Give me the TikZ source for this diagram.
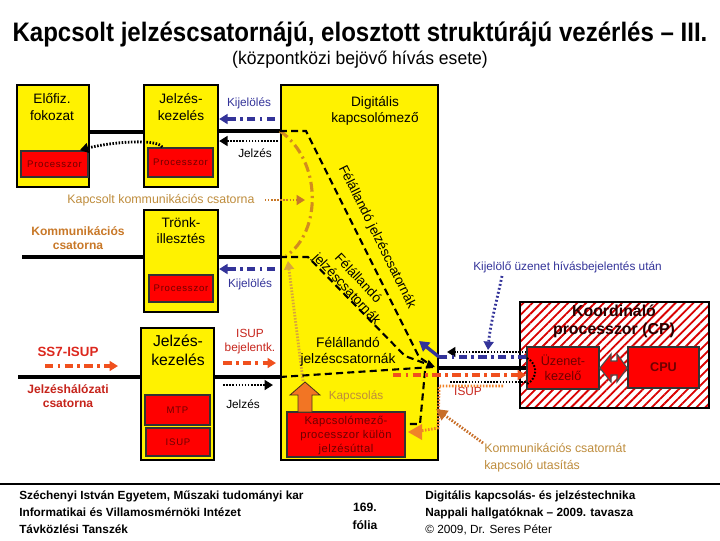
\documentclass[tikz,border=0pt]{standalone}
\usepackage{fontspec}
\usepackage{graphicx}
\setmainfont{Liberation Sans}
\usetikzlibrary{arrows.meta,patterns.meta,calc,fit}
\definecolor{navyC}{RGB}{51,51,153}
\definecolor{ochreT}{RGB}{190,140,60}
\definecolor{ochreB}{RGB}{200,120,40}
\definecolor{arcC}{RGB}{210,140,30}
\definecolor{redT}{RGB}{220,40,30}
\definecolor{redA}{RGB}{240,80,30}
\definecolor{orangeA}{RGB}{240,130,40}
\definecolor{brownA}{RGB}{200,110,40}
\definecolor{dotO}{RGB}{215,165,60}
\definecolor{darkR}{RGB}{110,0,0}
\newcommand{\fsz}[2]{\fontsize{#1}{#2}\selectfont}
\tikzset{
  ybox/.style={draw=black, line width=1.6pt, fill=yellow, inner sep=0pt},
  rbox/.style={draw=black!80, line width=1.2pt, fill=red, inner sep=0pt},
  rtext/.style={text=darkR, font=\fsz{6.8}{8}\addfontfeature{LetterSpace=8}, align=center},
  lbl/.style={font=\fsz{8.4}{10}, align=center, inner sep=0pt},
  btxt/.style={font=\fsz{9.7}{11.5}, align=center, inner sep=0pt},
  trunk/.style={line width=3.5pt},
  dashdot/.style={line width=2.6pt, dash pattern=on 6pt off 3pt on 2pt off 3pt},
  dotline/.style={line width=2pt, dash pattern=on 1.1pt off 1.1pt},
  sigline/.style={line width=1.5pt, dash pattern=on 5pt off 3pt},
  tip/.style={-{Triangle[length=6pt,width=7pt]}},
}
\begin{document}
\begin{tikzpicture}[x=0.025cm,y=-0.025cm]
\useasboundingbox (0,0) rectangle (720,540);
% title
\node (title) at (360,34) {\scalebox{0.9}[1]{\fsz{19}{22}\bfseries Kapcsolt jelzéscsatornájú, elosztott struktúrájú vezérlés – III.}};
\node (subtitle) at (360,60) {\scalebox{0.96}[1]{\fsz{13}{15}(központközi bejövő hívás esete)}};

% boxes
\node[ybox, fit={(17,85)(89,187)}] (pre) {};
\node[btxt] (pretxt) at (52,107) {Előfiz.\\fokozat};
\node[rbox, fit={(21,151)(88,177)}] (preP) {};
\node[rtext] at (preP) {Processzor};

\node[ybox, fit={(144,85)(218,187)}] (sh1) {};
\node[btxt] (sh1txt) at (181,107) {Jelzés-\\kezelés};
\node[rbox, fit={(148,148)(213,177)}] (sh1P) {};
\node[rtext] at (sh1P) {Processzor};

\node[ybox, fit={(281,85)(438,460)}] (dsw) {};
\node[btxt] (dswtxt) at (375,111) {Digitális\\kapcsolómező};

\node[ybox, fit={(144,210)(218,312)}] (tr) {};
\node[btxt] (trtxt) at (181,231) {Trönk-\\illesztés};
\node[rbox, fit={(149,275)(213,302)}] (trP) {};
\node[rtext] at (trP) {Processzor};

\node[ybox, fit={(141,328)(214,460)}] (sh2) {};
\node[btxt, font=\fsz{11.2}{13.5}] (sh2txt) at (178,350) {Jelzés-\\kezelés};
\node[rbox, fit={(145,395)(210,425)}] (mtp) {};
\node[rtext] at (mtp) {MTP};
\node[rbox, fit={(146,428)(210,456)}] (isup) {};
\node[rtext] at (isup) {ISUP};

\node[rbox, fit={(287,412)(405,457)}] (kpp) {};
\node[text=darkR, align=center, font=\fsz{8}{10.3}\addfontfeature{LetterSpace=4}] at ($(kpp)+(0,1)$) {Kapcsolómező-\\processzor külön\\jelzésúttal};

% coordinating processor
\node[draw=black, line width=1.6pt, fill=white, inner sep=0pt, fit={(520,302)(709,408)},
      pattern={Lines[angle=45,distance=4.5pt,line width=1.3pt]}, pattern color=red!85!black] (cp) {};
\node[font=\fsz{11.3}{13}\bfseries, align=center, text=black!85!red] (cptxt) at (614,321) {Koordináló\\processzor (CP)};
\node[rbox, fit={(527,347)(599,389)}] (uz) {};
\node[text=darkR, align=center, font=\fsz{9}{11}] at (uz) {Üzenet-\\kezelő};
\node[rbox, fit={(628,347)(699,388)}] (cpu) {};
\node[font=\fsz{9}{11}\bfseries, text=darkR] at (cpu) {CPU};
\draw[fill=red, draw=black!70, line width=0.8pt] (uz.east |- 0,368) -- (611,354) -- (611,361) -- (617,361) -- (617,354) -- (cpu.west |- 0,368) -- (617,382) -- (617,375) -- (611,375) -- (611,382) -- cycle;

% thick channel lines
\draw[trunk] (pre.east |- 0,132) -- (sh1.west |- 0,132);
\draw[trunk] (sh1.east |- 0,131) -- (dsw.west |- 0,131);
\coordinate (kcL) at (22,257);
\draw[trunk] (kcL) -- (tr.west |- 0,257);
\draw[trunk] (tr.east |- 0,257) -- (dsw.west |- 0,257);
\coordinate (ssL) at (18,377);
\draw[trunk] (ssL) -- (sh2.west |- 0,377);
\draw[trunk] (sh2.east |- 0,377) -- (dsw.west |- 0,377);
\draw[trunk] (dsw.east |- 0,368) -- (uz.west |- 0,368);

% upper gap
\node[lbl, text=navyC] (kij1) at (249,103) {Kijelölés};
\draw[dashdot, navyC, tip] (275,119) -- (sh1.east |- 0,119);
\draw[dotline, tip] (278,141) -- (sh1.east |- 0,141);
\node[lbl] (jel1) at (255,153) {Jelzés};
\draw[dotline, tip] ($(sh1P.north west)+(15,0)$) .. controls +(-5,-9) and +(30,-8) .. ($(preP.north east)+(-9,0)$);

% kapcsolt kommunikacios csatorna
\node[lbl, text=ochreT, font=\fsz{8.8}{10}] (kkc) at (161,200) {Kapcsolt kommunikációs csatorna};
\draw[dotline, ochreB, tip] (kkc.east) ++(10,0) -- (305,200);
\draw[arcC, line width=2.2pt, dash pattern=on 7pt off 3pt on 1.5pt off 3pt] (dsw.west |- 0,131) .. controls (322,160) and (322,232) .. (286,256);
\node[font=\fsz{8.6}{10.5}\bfseries, text=ochreB, align=center] (kcs) at (78,238) {Kommunikációs\\csatorna};

% trunk gap
\draw[dashdot, navyC, tip] (275,269) -- (tr.east |- 0,269);
\node[lbl, text=navyC] (kij2) at (250,284) {Kijelölés};
\draw[dotline, dotO, tip] (303,381) -- (288,261);

% SS7
\node[font=\fsz{9.5}{11}\bfseries, text=redT] (ss7) at (68,352) {SS7-ISUP};
\draw[dashdot, redA, tip] (45,366) -- (118,366);
\node[font=\fsz{8.6}{10.5}\bfseries, text=redT!90!black, align=center] (jhc) at (68,396) {Jelzéshálózati\\csatorna};
\node[lbl, text=redT!90!black] (isb) at (250,342) {ISUP\\bejelentk.};
\draw[dashdot, redA, tip] (sh2.east |- 0,363) ++(8,0) -- (276,363);
\draw[dotline, tip] (sh2.east |- 0,385) ++(8,0) -- (273,385);
\node[lbl] (jel2) at (243,404) {Jelzés};

% semi-permanent signalling channels
\draw[sigline] (dsw.west |- 0,131) -- (306,131) -- (419,357) -- (432,366);
\draw[sigline, -{Triangle[length=6pt,width=6pt]}] (dsw.west |- 0,257) -- (308,257) -- (405,356) -- (435,367);
\draw[sigline] (dsw.west |- 0,377) -- (433,367);
\draw[sigline] (425,371) -- (420,424) -- (kpp.east |- 0,424);
\node[font=\fsz{9.5}{11}, rotate=-63.5, inner sep=1pt] (fj1) at (377,237) {Félállandó jelzéscsatornák};
\node[font=\fsz{9.5}{11}, rotate=-47, align=center, inner sep=1pt] (fj2) at (352,284) {Félállandó\\jelzéscsatornák};
\node[font=\fsz{9.8}{11.5}, align=center] (fj3) at (348,352) {Félállandó\\jelzéscsatornák};

% kapcsolas arrow
\draw[fill=orangeA!90!red, draw=black!60!brown, line width=0.6pt] (298,412) -- (298,395) -- (290,395) -- (305,382) -- (320,395) -- (312,395) -- (312,412) -- cycle;
\node[lbl, text=ochreT] (kapcs) at (356,396) {Kapcsolás};

% right side connectors
\node[lbl, text=navyC, anchor=west] (kuz) at (473,267) {Kijelölő üzenet hívásbejelentés után};
\draw[navyC, line width=2pt, dash pattern=on 1.3pt off 1.6pt, -{Triangle[length=6pt,width=7pt]}] (502,276) .. controls (497,300) and (490,325) .. (488,350);
\draw[dotline, tip] (uz.west |- 0,352) -- (447,352);
\draw[dashdot, navyC, line width=2.4pt] (uz.west |- 0,357) -- (dsw.east |- 0,357);
\draw[navyC, line width=2.4pt, -{Triangle[length=7pt,width=8pt]}] (dsw.east |- 0,357) -- (419,341);
\draw[dashdot, redA, tip] (393,375) -- (uz.west |- 0,375);
\draw[dotline] (450,382) -- (uz.west |- 0,382);
\draw[line width=1.4pt, dash pattern=on 1.2pt off 1.2pt] (527,358) .. controls (538,364) and (538,378) .. (527,384);
\node[lbl, text=redT!90!black] (isupR) at (468,391) {ISUP};
\draw[dotline, orangeA] (503,386) -- (dsw.east |- 0,386) -- (438,428) -- (420,431);
\draw[fill=orangeA, draw=none] (408,432) -- (422,424) -- (422,440) -- cycle;
\coordinate (kcu) at (483,443);
\draw[dotline, brownA, -{Triangle[length=8pt,width=8pt]}] (kcu) -- (436,409);
\node[lbl, text=ochreT, anchor=north west, align=left, font=\fsz{8.8}{12}] (kcutxt) at (484,443) {Kommunikációs csatornát\\kapcsoló utasítás};

% footer
\coordinate (fl) at (0,484);
\coordinate (fr) at (720,484);
\draw[line width=1.1pt] (fl) -- (fr);
\node[anchor=north west, align=left, font=\fsz{8.4}{11.8}\bfseries, inner sep=0pt] (foot1) at (19,491) {Széchenyi István Egyetem, Műszaki tudományi kar\\Informatikai és Villamosmérnöki Intézet\\Távközlési Tanszék};
\node[anchor=north, align=center, font=\fsz{8.6}{12.5}\bfseries, inner sep=0pt] (foot2) at (365,503) {169.\\fólia};
\node[anchor=north west, align=left, font=\fsz{8.4}{11.8}, inner sep=0pt] (foot3) at (425,491) {\textbf{Digitális kapcsolás- és jelzéstechnika}\\\textbf{Nappali hallgatóknak – 2009. tavasza}\\© 2009, Dr. Seres Péter};
\end{tikzpicture}
\end{document}
